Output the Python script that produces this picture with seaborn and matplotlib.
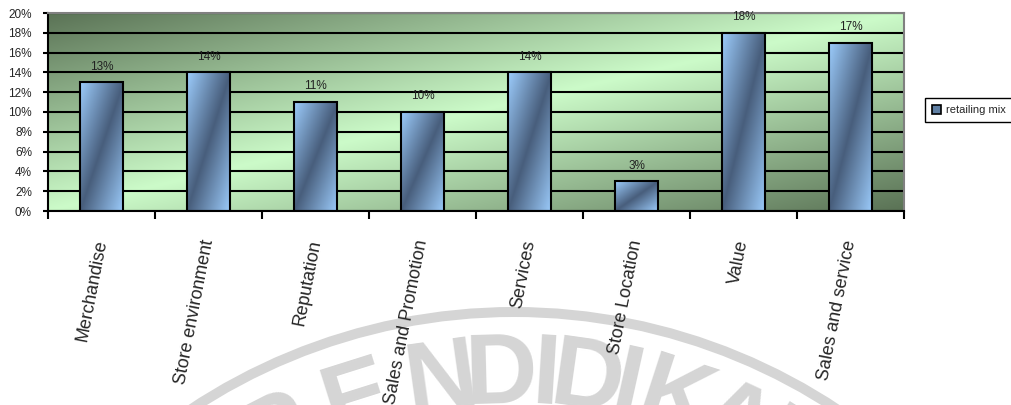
import numpy as np
import pandas as pd
import matplotlib
matplotlib.use("Agg")
import matplotlib.pyplot as plt
import seaborn as sns
from matplotlib.patches import Circle, Patch
from matplotlib.ticker import FixedLocator

# ---------------- data ----------------
categories = ["Merchandise", "Store environment", "Reputation", "Sales and Promotion",
              "Services", "Store Location", "Value", "Sales and service"]
values = [13, 14, 11, 10, 14, 3, 18, 17]
value_labels = ["13%", "14%", "11%", "10%", "14%", "3%", "18%", "17%"]
y_ticks = [0, 2, 4, 6, 8, 10, 12, 14, 16, 18, 20]
y_tick_labels = ["0%", "2%", "4%", "6%", "8%", "10%", "12%", "14%", "16%", "18%", "20%"]
series_name = "retailing mix"
watermark_text = "PENDIDIKAN"

# ---------------- style ----------------
sns.set_style("white")
plt.rcParams["font.family"] = ["Liberation Sans", "DejaVu Sans"]

W, H = 1011, 405
fig = plt.figure(figsize=(W / 100, H / 100), dpi=100)
fig.patch.set_facecolor("white")

# ---------------- watermark (background logo) ----------------
axw = fig.add_axes([0, 0, 1, 1], zorder=0)
axw.set_xlim(0, W)
axw.set_ylim(H, 0)
axw.axis("off")
wm_col = "#d5d5d5"
cx, cy, R = 514, 897, 585
axw.add_patch(Circle((cx, cy), R, fill=False, lw=7.2, ec=wm_col))
wm_angles = [-27, -17.5, -8, -1.5, 3.5, 8, 12.5, 18, 25, 32]
for ch, a in zip(watermark_text, wm_angles):
    th = np.radians(a)
    r = 520
    axw.text(cx + r * np.sin(th), cy - r * np.cos(th), ch, rotation=-a,
             ha="center", va="center", rotation_mode="anchor",
             fontsize=72, fontweight="bold", color=wm_col)

# ---------------- main axes ----------------
ax = fig.add_axes([48 / W, 1 - 211 / H, 856 / W, 198 / H], zorder=1)
ax.patch.set_alpha(0)

# plot-area gradient (dark corners top-left / bottom-right, light diagonal)
nx, ny = 400, 200
u = np.linspace(0, 1, nx)[None, :]
v = np.linspace(0, 1, ny)[:, None]
s = (u + v) / 2
t = 1 - np.abs(2 * s - 1)
dark = np.array([0x5a, 0x72, 0x55]) / 255
light = np.array([0xcc, 0xfb, 0xc9]) / 255
bg = dark + (light - dark) * t[..., None]
ax.imshow(bg, extent=(0, 1, 0, 1), transform=ax.transAxes, origin="upper",
          aspect="auto", zorder=0, interpolation="bilinear")

df = pd.DataFrame({"category": categories, "value": values})
sns.barplot(data=df, x="category", y="value", ax=ax, width=0.41,
            color="#6b8bb0", edgecolor="black", linewidth=1.5, zorder=2)

# gradient fill for bars
bar_patches = list(ax.patches)
b_light = np.array([0x9c, 0xcc, 0xfc]) / 255
b_dark = np.array([0x48, 0x5e, 0x7c]) / 255
gx = np.linspace(0, 1, 60)[None, :]
gy = np.linspace(0, 1, 200)[:, None]
gs = (gx + gy) / 2
gt = np.abs(2 * gs - 1)
bar_img = b_dark + (b_light - b_dark) * gt[..., None]
for p in bar_patches:
    x0, y0, w, h = p.get_x(), p.get_y(), p.get_width(), p.get_height()
    im = ax.imshow(bar_img, extent=(x0, x0 + w, y0, y0 + h), origin="upper",
                   aspect="auto", zorder=2.1, interpolation="bilinear")
    im.set_clip_path(p)
    p.set_facecolor("none")
    p.set_zorder(2.2)

ax.bar_label(ax.containers[0], labels=value_labels, padding=7,
             fontsize=8.5, color="#222222")

ax.set_xlim(-0.5, 7.5)
ax.set_ylim(0, 20)

# y axis
ax.yaxis.set_major_locator(FixedLocator(y_ticks))
ax.set_yticklabels(y_tick_labels)
ax.tick_params(axis="y", which="major", direction="out", length=3.6, width=1.5,
               color="black", labelsize=8.5, pad=8, left=True)
ax.grid(axis="y", color="black", lw=1.5)
ax.set_axisbelow(True)

# x axis
ax.set_xticks(range(len(categories)))
ax.set_xticklabels(categories, rotation=79, ha="right", va="center",
                   rotation_mode="anchor", fontsize=13)
ax.tick_params(axis="x", which="major", length=0, pad=21)
ax.set_xticks(np.arange(-0.5, len(categories), 1), minor=True)
ax.tick_params(axis="x", which="minor", direction="out", length=6, width=1.5,
               color="black", bottom=True)
ax.set_xlabel("")
ax.set_ylabel("")

for side in ["top", "right"]:
    ax.spines[side].set_color("#808080")
    ax.spines[side].set_linewidth(1.5)
for side in ["left", "bottom"]:
    ax.spines[side].set_color("black")
    ax.spines[side].set_linewidth(1.5)

# legend
handle = Patch(facecolor="#5f7fa3", edgecolor="black", linewidth=1.2, label=series_name)
leg = fig.legend(handles=[handle], loc="upper left", bbox_to_anchor=(925 / W, 1 - 98 / H),
                 fontsize=8, frameon=True, fancybox=False, edgecolor="black",
                 framealpha=1, borderpad=0.6, handlelength=0.85, handleheight=0.85,
                 handletextpad=0.45, borderaxespad=0)
leg.get_frame().set_linewidth(1.0)

fig.savefig("out.png", dpi=100, facecolor="white")
